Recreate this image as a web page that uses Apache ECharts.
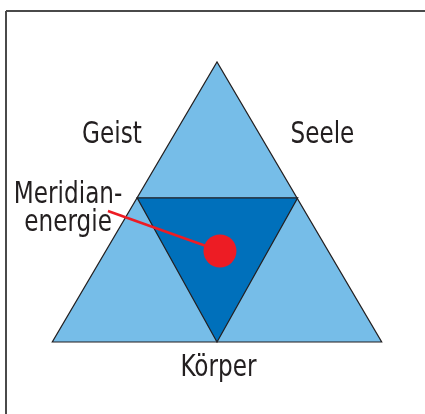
<!DOCTYPE html>
<html>
<head>
<meta charset="utf-8">
<script src="https://cdn.jsdelivr.net/npm/echarts@6/dist/echarts.min.js"></script>
<style>html,body{margin:0;padding:0;background:#fff;}#c{width:425px;height:414px;}</style>
</head>
<body>
<div id="c"></div>
<script>
// Diagram geometry in data units (base 0..2, height 0..1)
const outerTriangle = [[0, 0], [2, 0], [1, 1]];
const innerTriangle = [[0.515, 0.515], [1.49, 0.515], [1.0, 0]];
const labelNames = ['Geist', 'Seele', 'Körper', 'Meridian-\nenergie'];
const labelPositions = [[0.362, 0.741], [1.64, 0.741], [1.009, -0.091], [0.096, 0.476]];
const pointerLine = [[0.338, 0.468], [1.018, 0.325]];
const energyPoint = [[1.018, 0.325]];

const FONT = "'DejaVu Sans Condensed', 'Liberation Sans Narrow', sans-serif";
const polygons = [outerTriangle, innerTriangle];
const fills = ['#76bde8', '#0070bb'];

const chart = echarts.init(document.getElementById('c'), null, {renderer: 'canvas'});
chart.setOption({
  animation: false,
  backgroundColor: '#ffffff',
  grid: {left: 52.3, right: 43.3, top: 62, bottom: 72},
  xAxis: {type: 'value', min: 0, max: 2, show: false},
  yAxis: {type: 'value', min: 0, max: 1, show: false},
  graphic: [
    {type: 'line', shape: {x1: 6, y1: 11, x2: 425, y2: 11}, style: {stroke: '#4a4a4a', lineWidth: 2}},
    {type: 'line', shape: {x1: 6, y1: 11, x2: 6, y2: 414}, style: {stroke: '#4a4a4a', lineWidth: 2}}
  ],
  series: [
    {
      type: 'custom',
      clip: false,
      data: polygons.map((p, i) => [i]),
      renderItem: function (params, api) {
        const idx = api.value(0);
        const pts = polygons[idx].map(v => api.coord(v));
        return {
          type: 'polygon',
          shape: {points: pts},
          style: {fill: fills[idx], stroke: '#231f20', lineWidth: 1.2}
        };
      },
      z: 1
    },
    {
      type: 'line',
      data: pointerLine,
      showSymbol: false,
      symbol: 'none',
      lineStyle: {color: '#ed1c24', width: 2.5, opacity: 1},
      clip: false,
      z: 3
    },
    {
      type: 'scatter',
      data: energyPoint,
      symbolSize: 33,
      itemStyle: {color: '#ed1c24', opacity: 1},
      clip: false,
      z: 4
    },
    {
      type: 'custom',
      clip: false,
      data: labelNames.map((n, i) => ({name: n, value: labelPositions[i]})),
      renderItem: function (params, api) {
        const p = api.coord([api.value(0), api.value(1)]);
        const name = labelNames[params.dataIndex];
        return {
          type: 'text',
          x: p[0],
          y: p[1],
          scaleX: 0.83,
          scaleY: 1,
          style: {
            x: 0,
            y: 0,
            text: name,
            fill: '#231f20',
            font: '31px ' + FONT,
            fontSize: 31,
            fontFamily: FONT,
            lineHeight: 28,
            align: 'center',
            verticalAlign: 'middle'
          }
        };
      },
      z: 5
    }
  ]
});
</script>
</body>
</html>
